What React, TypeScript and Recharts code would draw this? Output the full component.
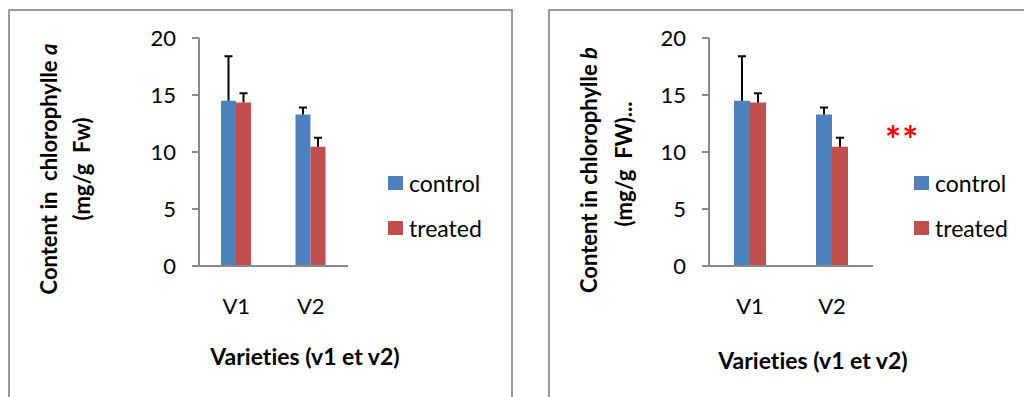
import React from 'react';
import { BarChart, Bar, XAxis, YAxis, ErrorBar, Legend, Label } from 'recharts';

const categories = ['V1', 'V2'];
const controlValues = [14.5, 13.3];
const treatedValues = [14.35, 10.45];
const controlErrors = [3.9, 0.6];
const treatedErrors = [0.8, 0.8];
const yTicks = [0, 5, 10, 15, 20];
const seriesNames = ['control', 'treated'];
const seriesColors = ['#4F81BD', '#C0504D'];

const data = categories.map((name, i) => ({
  name,
  control: controlValues[i],
  treated: treatedValues[i],
  controlErr: [0, controlErrors[i]],
  treatedErr: [0, treatedErrors[i]],
}));

const FONT = 'Lato, "Liberation Sans", sans-serif';
const AXIS = '#898989';

type PanelProps = {
  left: number;
  width: number;
  marginRight: number;
  barSize: number;
  line1: string;
  italic: string;
  line2: string;
  t1x: number;
  t2x: number;
  t1y: number;
  t2y: number;
  xTitleX: number;
  xTitleY: number;
  legendLeft: number;
  stars?: boolean;
};

function Panel(p: PanelProps) {
  const legendContent = () => (
    <div style={{ position: 'relative', width: 140, height: 130, fontFamily: FONT }}>
      {p.stars && (
        <div style={{ position: 'absolute', left: -29, top: -50, color: '#FF0000', fontSize: 38, fontWeight: 700, letterSpacing: 1, lineHeight: '38px' }}>**</div>
      )}
      {seriesNames.map((n, i) => (
        <div key={n} style={{ position: 'absolute', left: 0, top: 45 * i + 6, display: 'flex', alignItems: 'center', height: 14 }}>
          <div style={{ width: 15, height: 14, background: seriesColors[i] }} />
          <span style={{ marginLeft: 6, fontSize: 23, color: '#000', lineHeight: '14px', whiteSpace: 'pre' }}>{n}</span>
        </div>
      ))}
    </div>
  );

  const yTitle = () => (
    <g style={{ fontFamily: FONT, fontWeight: 700, fontSize: 22, fontVariantLigatures: 'none' }} fill="#000">
      <text x={p.t1x} y={p.t1y} textAnchor="middle" dominantBaseline="central" transform={`rotate(-90 ${p.t1x} ${p.t1y})`} style={{ whiteSpace: 'pre' }}>
        {p.line1}
        <tspan fontStyle="italic">{p.italic}</tspan>
      </text>
      <text x={p.t2x} y={p.t2y} textAnchor="middle" dominantBaseline="central" transform={`rotate(-90 ${p.t2x} ${p.t2y})`} style={{ whiteSpace: 'pre' }}>
        {p.line2}
      </text>
    </g>
  );

  const xTitle = () => (
    <text x={p.xTitleX} y={p.xTitleY} textAnchor="middle" dominantBaseline="central" style={{ fontFamily: FONT, fontWeight: 700, fontSize: 23, fontVariantLigatures: 'none' }} fill="#000">
      Varieties (v1 et v2)
    </text>
  );

  return (
    <div style={{ position: 'absolute', left: p.left, top: 0 }}>
      <BarChart
        width={p.width}
        height={397}
        data={data}
        margin={{ top: 38, right: p.marginRight, bottom: 0, left: 0 }}
        barGap={0}
        barSize={p.barSize}
      >
        <XAxis
          dataKey="name"
          height={131}
          tickLine={false}
          tickSize={0}
          tickMargin={32}
          axisLine={{ stroke: AXIS, strokeWidth: 2 }}
          tick={{ fill: '#000', fontSize: 22, fontFamily: FONT }}
        >
          <Label content={xTitle} />
        </XAxis>
        <YAxis
          width={199}
          domain={[0, 20]}
          ticks={yTicks}
          interval={0}
          tickSize={7}
          tickMargin={16}
          axisLine={{ stroke: AXIS, strokeWidth: 2 }}
          tickLine={{ stroke: AXIS, strokeWidth: 2 }}
          tick={{ fill: '#000', fontSize: 22, fontFamily: FONT }}
        >
          <Label content={yTitle} />
        </YAxis>
        <Legend
          layout="horizontal"
          align="center"
          verticalAlign="middle"
          content={legendContent}
          wrapperStyle={{ position: 'absolute', left: p.legendLeft, top: 170, width: 140, height: 130 }}
        />
        <Bar dataKey="control" name="control" fill={seriesColors[0]} isAnimationActive={false}>
          <ErrorBar dataKey="controlErr" direction="y" width={4} stroke="#000" strokeWidth={2} />
        </Bar>
        <Bar dataKey="treated" name="treated" fill={seriesColors[1]} isAnimationActive={false}>
          <ErrorBar dataKey="treatedErr" direction="y" width={4} stroke="#000" strokeWidth={2} />
        </Bar>
      </BarChart>
    </div>
  );
}

export default function App() {
  return (
    <div style={{ position: 'fixed', left: 0, top: 0, width: 1024, height: 397, background: '#fff', overflow: 'hidden' }}>
      <style>{`.recharts-errorBar line:nth-of-type(3){display:none}`}</style>
      <div style={{ position: 'absolute', left: 8, top: 9, width: 501, height: 420, border: '2px solid #9a9a9a' }} />
      <div style={{ position: 'absolute', left: 548, top: 9, width: 520, height: 420, border: '2px solid #9a9a9a' }} />
      <Panel
        left={0}
        width={520}
        marginRight={172}
        barSize={15}
        line1={'Content in  chlorophylle '}
        italic="a"
        line2={'(mg/g  Fw)'}
        t1x={48}
        t1y={169}
        t2x={81}
        t2y={169}
        xTitleX={305}
        xTitleY={356}
        legendLeft={388}
      />
      <Panel
        left={510}
        width={514}
        marginRight={151}
        barSize={16}
        line1={'Content in chlorophylle '}
        italic="b"
        line2={'(mg/g  FW)...'}
        t1x={78}
        t1y={170}
        t2x={113}
        t2y={164}
        xTitleX={303}
        xTitleY={360}
        legendLeft={404}
        stars
      />
    </div>
  );
}
